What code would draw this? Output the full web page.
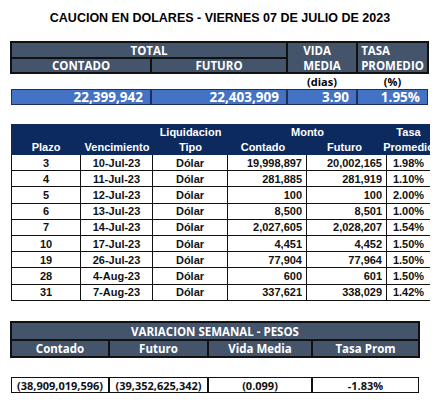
<!DOCTYPE html>
<html><head><meta charset="utf-8">
<script src="https://cdn.jsdelivr.net/npm/chart.js@4/dist/chart.umd.min.js"></script>
<style>
body{margin:0;width:440px;height:410px;background:#fff;position:relative;font-family:"Open Sans","DejaVu Sans",sans-serif;overflow:hidden}
.c{position:absolute;box-sizing:border-box;display:flex;align-items:center;justify-content:center;font-weight:bold;white-space:nowrap}
.n{font-family:"Liberation Sans Narrow","Liberation Sans",sans-serif}
</style></head><body>
<script>
const title="CAUCION EN DOLARES - VIERNES 07 DE JULIO DE 2023";
const totalVals=["22,399,942","22,403,909","3.90","1.95%"];
const plazo=[3,4,5,6,7,10,19,28,31];
const vencimiento=["10-Jul-23","11-Jul-23","12-Jul-23","13-Jul-23","14-Jul-23","17-Jul-23","26-Jul-23","4-Aug-23","7-Aug-23"];
const tipo=["Dólar","Dólar","Dólar","Dólar","Dólar","Dólar","Dólar","Dólar","Dólar"];
const contado=["19,998,897","281,885","100","8,500","2,027,605","4,451","77,904","600","337,621"];
const futuro=["20,002,165","281,919","100","8,501","2,028,207","4,452","77,964","601","338,029"];
const tasa=["1.98%","1.10%","2.00%","1.00%","1.54%","1.50%","1.50%","1.50%","1.42%"];
const variacion=["(38,909,019,596)","(39,352,625,342)","(0.099)","-1.83%"];

function cell(x,y,w,h,t,st,cls){const d=document.createElement('div');d.className='c '+(cls||'');
Object.assign(d.style,{left:x+'px',top:y+'px',width:w+'px',height:h+'px'},st||{});d.textContent=t;document.body.appendChild(d);return d;}
const G='#44546a',B='#4472c4',NV='#0d2a5e';
cell(0,6,440,24,title,{fontSize:'12.5px',color:'#000',fontFamily:'"Liberation Sans",sans-serif'});
// top table
const tb={fontSize:'11.5px',color:'#fff',background:G,border:'1px solid #111'};
cell(11,42,276,16,'TOTAL',tb);
cell(11,58,140,15,'CONTADO',tb);cell(151,58,136,15,'FUTURO',tb);
cell(287,42,70,31,'',Object.assign({},tb,{flexDirection:'column',lineHeight:'15px'})).innerHTML='VIDA<br>MEDIA';
cell(357,42,71,31,'',Object.assign({},tb,{flexDirection:'column',lineHeight:'15px'})).innerHTML='TASA<br>PROMEDIO';
const outer=document.createElement('div');Object.assign(outer.style,{position:'absolute',left:'10px',top:'41px',width:'419px',height:'33px',border:'2px solid #111',boxSizing:'border-box'});document.body.appendChild(outer);
cell(287,73,70,16,'(dias)',{fontSize:'11px'});cell(357,73,71,16,'(%)',{fontSize:'11px'});
const tx=[11,151,287,357,428];
totalVals.forEach((v,i)=>cell(tx[i],89,tx[i+1]-tx[i],16,v,{fontSize:'13.5px',color:'#fff',background:B,border:'1px solid #1f2f55',justifyContent:'flex-end',paddingRight:'7px'}));
// middle table
const mx=[11,81,153,228,307,387,430];
cell(11,124,419,31,'',{background:NV});
const hs={fontSize:'11px',color:'#fff'};
cell(11,139,70,16,'Plazo',hs,'n');cell(81,139,72,16,'Vencimiento',hs,'n');
cell(153,124,75,16,'Liquidacion',hs,'n');cell(153,139,75,16,'Tipo',hs,'n');
cell(228,124,159,16,'Monto',hs,'n');
cell(228,139,70,16,'Contado',hs,'n');
cell(307,139,75,16,'Futuro',hs,'n');
cell(387,124,43,16,'Tasa',hs,'n');cell(387,139,43,16,'Promedio',hs,'n');
const rh=16.2;
plazo.forEach((p,r)=>{const y=155+r*rh;const vals=[p,vencimiento[r],tipo[r],contado[r],futuro[r],tasa[r]];
vals.forEach((v,i)=>{const st={fontSize:'11px',color:'#111',borderBottom:'1px solid #111',borderRight:i<5?'1px solid #111':'none',borderLeft:i==0?'1px solid #111':'none'};
if(i==3||i==4){st.justifyContent='flex-end';st.paddingRight='4px';}
cell(mx[i],y,mx[i+1]-mx[i],rh,String(v),st,'n');});});
// bottom table
const bx=[11,109,208,312,419];
cell(11,322,408,18,'VARIACION SEMANAL - PESOS',{fontSize:'11.5px',color:'#fff',background:G,border:'1px solid #111'});
['Contado','Futuro','Vida Media','Tasa Prom'].forEach((t,i)=>cell(bx[i],340,bx[i+1]-bx[i],17,t,{fontSize:'11.5px',color:'#fff',background:G,border:'1px solid #111'}));
const o2=document.createElement('div');Object.assign(o2.style,{position:'absolute',left:'10px',top:'321px',width:'410px',height:'37px',border:'2px solid #111',boxSizing:'border-box'});document.body.appendChild(o2);
variacion.forEach((v,i)=>cell(bx[i],377,bx[i+1]-bx[i],16,v,{fontSize:'11px',color:'#111',border:'1.5px solid #111'}));
</script>
</body></html>
